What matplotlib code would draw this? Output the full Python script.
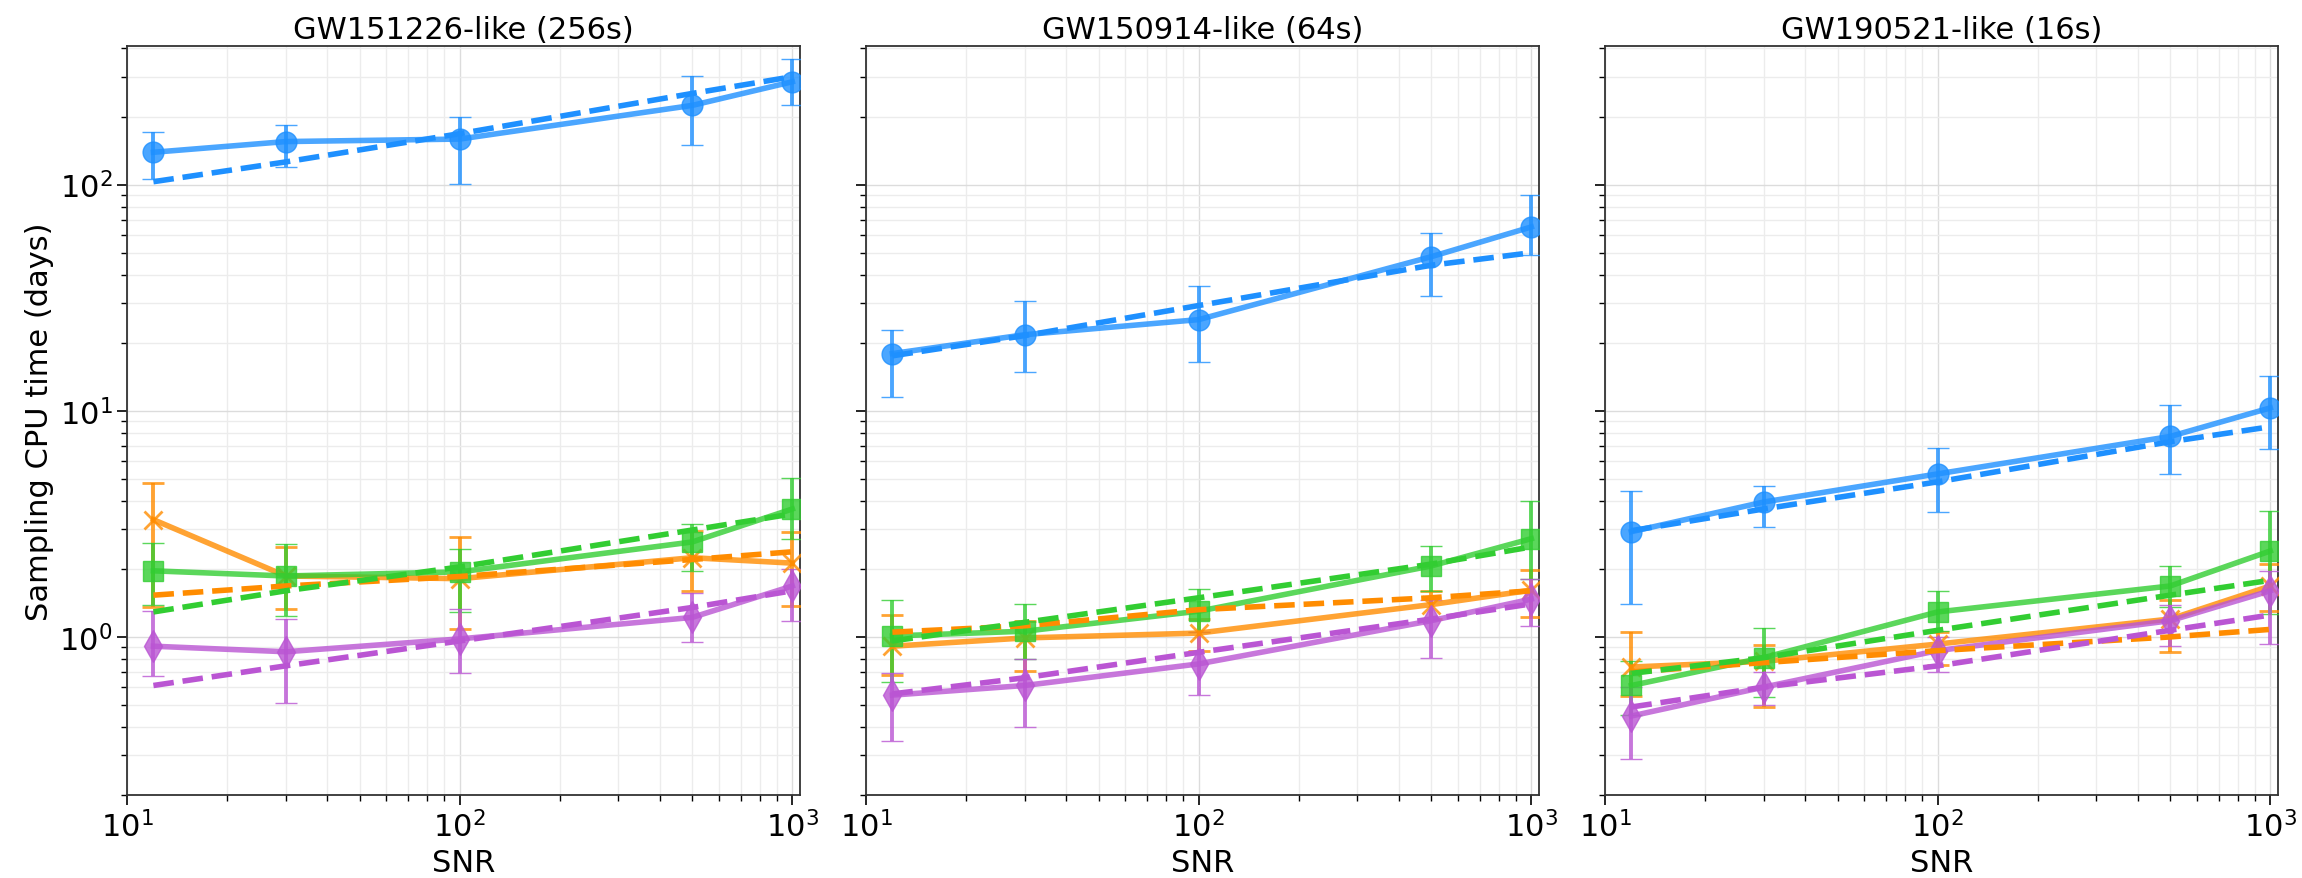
import numpy as np
import matplotlib
matplotlib.use("Agg")
import matplotlib.pyplot as plt

snr = [12, 30, 100, 500, 1000]
titles = ["GW151226-like (256s)", "GW150914-like (64s)", "GW190521-like (16s)"]

colors = {"blue": "#1E90FF", "orange": "#FF8C00", "green": "#32CD32", "purple": "#BA55D3"}
markers = {"blue": "o", "orange": "x", "green": "s", "purple": "d"}
msizes = {"blue": 15, "orange": 13, "green": 14, "purple": 16}
order = ["blue", "orange", "green", "purple"]

# Panel 1: GW151226-like
p1_blue = [139, 155, 159, 224, 285]
p1_blue_lo = [106, 120, 101, 150, 226]
p1_blue_hi = [170, 183, 200, 303, 360]
p1_blue_fit = [103, 126, 168, 253, 300]
p1_orange = [3.3, 1.86, 1.81, 2.24, 2.12]
p1_orange_lo = [1.35, 1.33, 1.08, 1.6, 1.37]
p1_orange_hi = [4.8, 2.5, 2.77, 2.95, 2.9]
p1_orange_fit = [1.53, 1.68, 1.85, 2.2, 2.38]
p1_green = [1.96, 1.86, 1.94, 2.63, 3.68]
p1_green_lo = [1.39, 1.24, 1.29, 1.96, 2.71]
p1_green_hi = [2.6, 2.58, 2.45, 3.16, 5.06]
p1_green_fit = [1.29, 1.6, 2.04, 2.97, 3.5]
p1_purple = [0.91, 0.86, 0.98, 1.22, 1.68]
p1_purple_lo = [0.67, 0.51, 0.69, 0.95, 1.18]
p1_purple_hi = [1.3, 1.2, 1.33, 1.57, 2.0]
p1_purple_fit = [0.61, 0.745, 0.96, 1.35, 1.6]

# Panel 2: GW150914-like
p2_blue = [17.9, 21.7, 25.3, 48, 65]
p2_blue_lo = [11.5, 14.9, 16.5, 32.2, 49]
p2_blue_hi = [22.8, 30.7, 35.7, 61, 90]
p2_blue_fit = [17.5, 21.5, 29.2, 44, 50]
p2_orange = [0.91, 0.99, 1.04, 1.39, 1.61]
p2_orange_lo = [0.68, 0.71, 0.87, 1.2, 1.22]
p2_orange_hi = [1.25, 1.18, 1.2, 1.6, 1.98]
p2_orange_fit = [1.05, 1.12, 1.32, 1.49, 1.6]
p2_green = [1.01, 1.06, 1.3, 2.06, 2.72]
p2_green_lo = [0.63, 0.8, 1.05, 1.6, 1.81]
p2_green_hi = [1.46, 1.4, 1.63, 2.53, 4.0]
p2_green_fit = [0.96, 1.16, 1.49, 2.1, 2.5]
p2_purple = [0.553, 0.61, 0.76, 1.18, 1.47]
p2_purple_lo = [0.347, 0.40, 0.555, 0.81, 1.12]
p2_purple_hi = [0.69, 0.8, 1.05, 1.45, 1.81]
p2_purple_fit = [0.56, 0.66, 0.855, 1.2, 1.4]

# Panel 3: GW190521-like
p3_blue = [2.92, 3.95, 5.26, 7.7, 10.3]
p3_blue_lo = [1.4, 3.07, 3.57, 5.26, 6.77]
p3_blue_hi = [4.4, 4.66, 6.86, 10.6, 14.3]
p3_blue_fit = [2.95, 3.68, 4.85, 7.3, 8.5]
p3_orange = [0.736, 0.78, 0.93, 1.2, 1.68]
p3_orange_lo = [0.55, 0.49, 0.75, 0.855, 1.3]
p3_orange_hi = [1.05, 0.92, 1.05, 1.45, 2.1]
p3_orange_fit = [0.7, 0.77, 0.87, 1.0, 1.08]
p3_green = [0.61, 0.81, 1.29, 1.68, 2.4]
p3_green_lo = [0.45, 0.54, 1.06, 1.35, 1.26]
p3_green_hi = [0.78, 1.1, 1.6, 2.06, 3.6]
p3_green_fit = [0.69, 0.81, 1.07, 1.53, 1.78]
p3_purple = [0.447, 0.6, 0.87, 1.18, 1.6]
p3_purple_lo = [0.29, 0.5, 0.7, 0.91, 0.93]
p3_purple_hi = [0.6, 0.7, 1.0, 1.39, 1.96]
p3_purple_fit = [0.49, 0.6, 0.745, 1.07, 1.25]

panels = [
    {"blue": (p1_blue, p1_blue_lo, p1_blue_hi, p1_blue_fit),
     "orange": (p1_orange, p1_orange_lo, p1_orange_hi, p1_orange_fit),
     "green": (p1_green, p1_green_lo, p1_green_hi, p1_green_fit),
     "purple": (p1_purple, p1_purple_lo, p1_purple_hi, p1_purple_fit)},
    {"blue": (p2_blue, p2_blue_lo, p2_blue_hi, p2_blue_fit),
     "orange": (p2_orange, p2_orange_lo, p2_orange_hi, p2_orange_fit),
     "green": (p2_green, p2_green_lo, p2_green_hi, p2_green_fit),
     "purple": (p2_purple, p2_purple_lo, p2_purple_hi, p2_purple_fit)},
    {"blue": (p3_blue, p3_blue_lo, p3_blue_hi, p3_blue_fit),
     "orange": (p3_orange, p3_orange_lo, p3_orange_hi, p3_orange_fit),
     "green": (p3_green, p3_green_lo, p3_green_hi, p3_green_fit),
     "purple": (p3_purple, p3_purple_lo, p3_purple_hi, p3_purple_fit)},
]

plt.rcParams["font.family"] = ["DejaVu Sans"]
fig, axes = plt.subplots(1, 3, figsize=(23.02, 8.79), dpi=100, sharey=True)
fig.subplots_adjust(left=0.0552, right=0.9896, top=0.9465, bottom=0.0944, wspace=0.098)

FS = 22
for ax, title, data in zip(axes, titles, panels):
    ax.set_xscale("log")
    ax.set_yscale("log")
    ax.grid(True, which="major", color="#dcdcdc", lw=1.0)
    ax.grid(True, which="minor", color="#ececec", lw=1.0)
    ax.set_axisbelow(True)
    for key in order:
        vals, lo, hi, fit = data[key]
        vals = np.array(vals)
        yerr = np.array([vals - np.array(lo), np.array(hi) - vals])
        c = colors[key]
        ax.errorbar(snr, vals, yerr=yerr, color=c, marker=markers[key], ms=msizes[key],
                    mew=2 if key == "orange" else 1, lw=4, elinewidth=2.8,
                    capsize=8, capthick=2.2, alpha=0.8, zorder=3)
        ax.plot(snr, fit, color=c, ls="--", lw=4, zorder=4)
    ax.set_xlim(10, 1055)
    ax.set_ylim(0.2, 410)
    ax.set_title(title, fontsize=FS)
    ax.set_xlabel("SNR", fontsize=FS)
    ax.tick_params(axis="both", which="major", labelsize=FS, length=7, width=1.2)
    ax.tick_params(axis="both", which="minor", length=4, width=1)
    for s in ax.spines.values():
        s.set_color("#333333")
        s.set_linewidth(1.3)

axes[0].set_ylabel("Sampling CPU time (days)", fontsize=FS)

fig.savefig("out.png", dpi=100)
